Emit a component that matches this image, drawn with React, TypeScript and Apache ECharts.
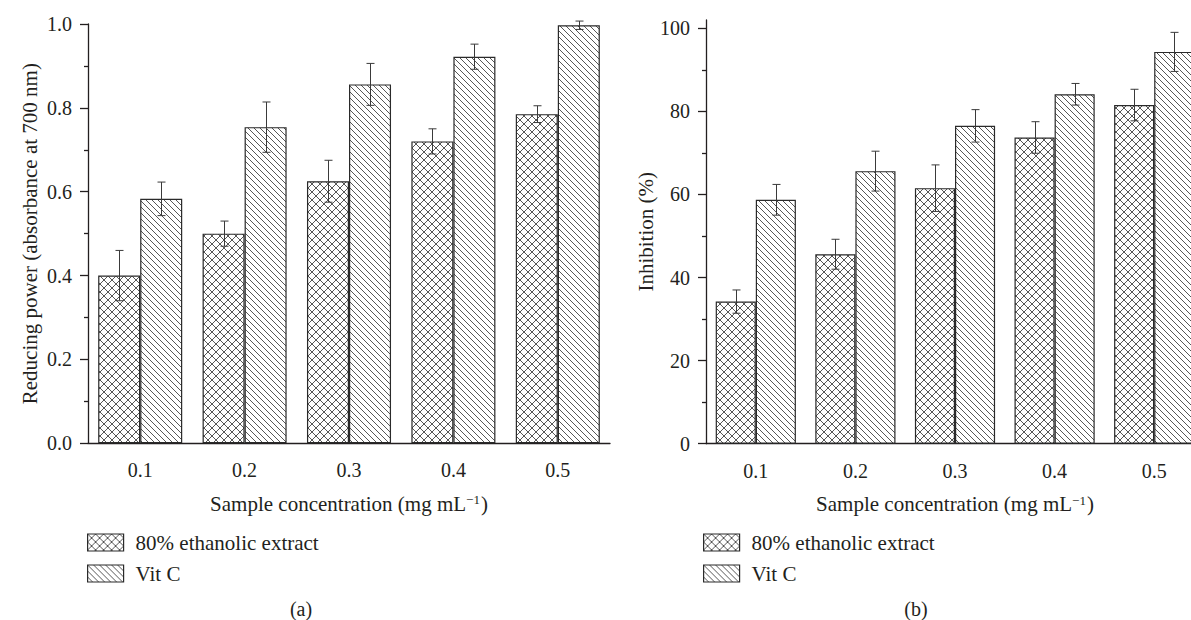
import React, { useEffect, useRef } from 'react';
import * as echarts from 'echarts';

// ---------- data ----------
const categories = ['0.1', '0.2', '0.3', '0.4', '0.5'];
const seriesNames = ['80% ethanolic extract', 'Vit C'];

// (a) reducing power (absorbance at 700 nm)
const reducingExtract = [0.4, 0.5, 0.625, 0.72, 0.785];
const reducingExtractErr = [0.06, 0.03, 0.05, 0.03, 0.02];
const reducingVitC = [0.583, 0.754, 0.856, 0.922, 0.997];
const reducingVitCErr = [0.04, 0.06, 0.05, 0.03, 0.01];

// (b) inhibition (%)
const inhibExtract = [34.2, 45.6, 61.5, 73.7, 81.5];
const inhibExtractErr = [2.8, 3.6, 5.6, 3.8, 3.8];
const inhibVitC = [58.7, 65.6, 76.5, 84.1, 94.3];
const inhibVitCErr = [3.7, 4.8, 3.9, 2.6, 4.7];

const reducingTicks = [0, 0.2, 0.4, 0.6, 0.8, 1.0];
const inhibTicks = [0, 20, 40, 60, 80, 100];

const FONT = 'Liberation Serif';
const INK = '#231f20';
const GAP = 0.195;

function makeTile(size: number, both: boolean) {
  const c = document.createElement('canvas');
  c.width = size;
  c.height = size;
  const ctx = c.getContext('2d')!;
  ctx.fillStyle = '#ffffff';
  ctx.fillRect(0, 0, size, size);
  ctx.strokeStyle = '#444444';
  ctx.lineWidth = 0.9;
  ctx.beginPath();
  for (let k = -1; k <= 1; k++) {
    ctx.moveTo(k * size, 0);
    ctx.lineTo(k * size + size, size);
    if (both) {
      ctx.moveTo(k * size, size);
      ctx.lineTo(k * size + size, 0);
    }
  }
  ctx.stroke();
  return { image: c, repeat: 'repeat', imageWidth: size, imageHeight: size } as any;
}

export default function App() {
  const ref = useRef<HTMLDivElement>(null);
  useEffect(() => {
    if (!ref.current) return;
    const chart = echarts.init(ref.current, null, { renderer: 'svg' });
    const cross = makeTile(8, true);
    const diag = makeTile(6, false);
    const patterns = [cross, diag];

    const axisLineStyle = { color: INK, width: 1.3 };
    const labelStyle = { fontSize: 20, color: INK, fontFamily: FONT };
    const nameStyle = { fontSize: 21, color: INK, fontFamily: FONT };

    const xAxes: any[] = [];
    [0, 1].forEach((g) => {
      xAxes.push({
        gridIndex: g,
        type: 'category',
        data: categories,
        position: 'bottom',
        axisLine: { lineStyle: axisLineStyle },
        axisTick: { alignWithLabel: true, length: 8, lineStyle: axisLineStyle },
        axisLabel: { ...labelStyle, margin: 17 },
        name: 'Sample concentration (mg mL{sup|\u22121})',
        nameLocation: 'middle',
        nameGap: 50,
        nameTextStyle: {
          ...nameStyle,
          rich: { sup: { fontSize: 13, color: INK, fontFamily: FONT, verticalAlign: 'top', padding: [0, 1, 0, 0] } },
        },
      });
      xAxes.push({
        gridIndex: g,
        type: 'category',
        data: categories,
        position: 'bottom',
        axisLine: { show: false },
        axisTick: { length: 4, lineStyle: axisLineStyle },
        axisLabel: { show: false },
      });
    });

    const yCommon = {
      type: 'value',
      axisLine: { show: true, lineStyle: axisLineStyle },
      axisTick: { show: true, length: 8, lineStyle: axisLineStyle },
      minorTick: { show: true, splitNumber: 2, length: 4, lineStyle: axisLineStyle },
      splitLine: { show: false },
      nameLocation: 'middle',
      nameRotate: 90,
      nameGap: 48,
      nameTextStyle: nameStyle,
    };
    const yAxes: any[] = [
      {
        ...yCommon,
        gridIndex: 0,
        min: 0,
        max: 1,
        interval: 0.2,
        axisLabel: { ...labelStyle, margin: 16, formatter: (v: number) => v.toFixed(1), customValues: reducingTicks },
        name: 'Reducing power (absorbance at 700 nm)',
      },
      {
        ...yCommon,
        gridIndex: 1,
        min: 0,
        max: 102,
        interval: 20,
        axisTick: { ...yCommon.axisTick, customValues: inhibTicks },
        axisLabel: { ...labelStyle, margin: 16, customValues: inhibTicks, formatter: (v: number) => (v > 100 ? '' : String(v)) },
        name: 'Inhibition (%)',
      },
    ];

    const barData = [
      [reducingExtract, reducingVitC],
      [inhibExtract, inhibVitC],
    ];
    const errData = [
      [reducingExtractErr, reducingVitCErr],
      [inhibExtractErr, inhibVitCErr],
    ];

    const series: any[] = [];
    [0, 1].forEach((g) => {
      [0, 1].forEach((s) => {
        series.push({
          type: 'bar',
          name: seriesNames[s],
          xAxisIndex: g * 2,
          yAxisIndex: g,
          data: barData[g][s],
          barGap: '0%',
          barCategoryGap: GAP * 100 + '%',
          silent: true,
          itemStyle: { color: patterns[s], borderColor: '#2a2a2a', borderWidth: 1.2 },
        });
      });
      [0, 1].forEach((s) => {
        series.push({
          type: 'custom',
          xAxisIndex: g * 2,
          yAxisIndex: g,
          z: 5,
          silent: true,
          encode: { x: 0, y: 1 },
          data: categories.map((_, i) => [i, barData[g][s][i], errData[g][s][i]]),
          renderItem: (params: any, api: any) => {
            const cat = api.value(0);
            const v = api.value(1);
            const e = api.value(2);
            const band = api.size([1, 0])[0];
            const bw = (band * (1 - GAP)) / 2;
            const off = s === 0 ? -bw / 2 : bw / 2;
            const top = api.coord([cat, v + e]);
            const bot = api.coord([cat, v - e]);
            const x = Math.round(top[0] + off) + 0.5;
            const st = { stroke: '#3a3a3a', lineWidth: 1 };
            return {
              type: 'group',
              children: [
                { type: 'line', shape: { x1: x, y1: top[1], x2: x, y2: bot[1] }, style: st },
                { type: 'line', shape: { x1: x - 4, y1: top[1], x2: x + 4, y2: top[1] }, style: st },
                { type: 'line', shape: { x1: x - 4, y1: bot[1], x2: x + 4, y2: bot[1] }, style: st },
              ],
            };
          },
        });
      });
    });

    const legendCommon = {
      data: seriesNames,
      orient: 'vertical',
      icon: 'rect',
      itemWidth: 36,
      itemHeight: 17,
      itemGap: 10,
      padding: 0,
      selectedMode: false,
      itemStyle: { borderColor: '#2a2a2a', borderWidth: 1.2 },
      textStyle: { fontSize: 21, color: INK, fontFamily: FONT, lineHeight: 21, padding: [0, 0, 0, 7] },
    };

    chart.setOption({
      animation: false,
      textStyle: { fontFamily: FONT },
      grid: [
        { left: 88, top: 24, width: 522, height: 419.3, containLabel: false },
        { left: 706, top: 443.7 - 102 * 4.155, width: 498, height: 102 * 4.155, containLabel: false },
      ],
      xAxis: xAxes,
      yAxis: yAxes,
      legend: [
        { ...legendCommon, left: 87, top: 532 },
        { ...legendCommon, left: 703, top: 532 },
      ],
      series,
      graphic: [
        { type: 'text', x: 301, y: 609, style: { text: '(a)', fill: INK, fontSize: 20, fontFamily: FONT, textAlign: 'center', textVerticalAlign: 'middle' } },
        { type: 'text', x: 916, y: 609, style: { text: '(b)', fill: INK, fontSize: 20, fontFamily: FONT, textAlign: 'center', textVerticalAlign: 'middle' } },
      ],
    });
    return () => chart.dispose();
  }, []);
  return <div ref={ref} style={{ position: 'fixed', left: 0, top: 0, width: 1240, height: 620, background: '#fff' }} />;
}
